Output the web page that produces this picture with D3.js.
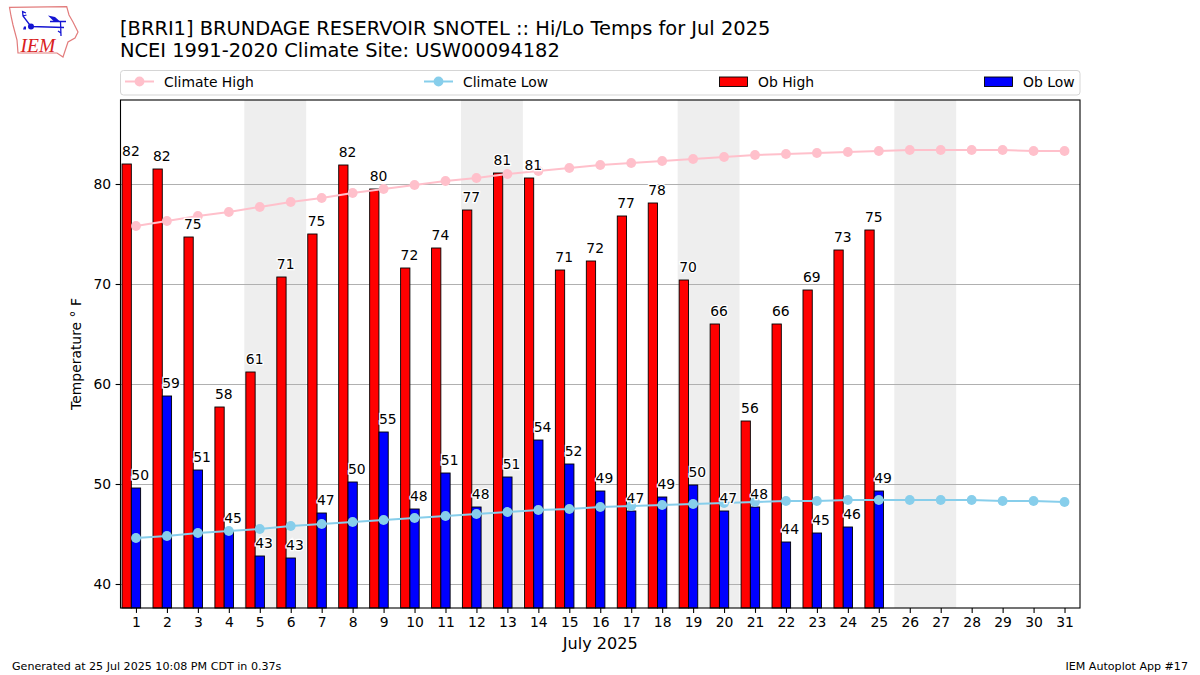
<!DOCTYPE html>
<html>
<head>
<meta charset="utf-8">
<script src="https://d3js.org/d3.v7.min.js"></script>
<style>
html,body{margin:0;padding:0;background:#fff;}
svg{display:block;}
text{font-family:"DejaVu Sans",sans-serif;fill:#000;}
</style>
</head>
<body>
<script>
const WIDTH = 1200, HEIGHT = 675;
const LEFT = 120.5, RIGHT = 1080, TOP = 100, BOTTOM = 608;

const days = d3.range(1, 32);
const climateHigh = [75.8,76.3,76.8,77.2,77.7,78.2,78.6,79.1,79.5,79.9,80.3,80.6,81.0,81.3,81.6,81.9,82.1,82.3,82.5,82.7,82.9,83.0,83.1,83.2,83.3,83.4,83.4,83.4,83.4,83.3,83.3];
const climateLow = [44.6,44.8,45.1,45.3,45.5,45.8,46.0,46.2,46.4,46.6,46.8,47.0,47.2,47.4,47.5,47.7,47.8,47.9,48.0,48.1,48.2,48.3,48.3,48.4,48.4,48.4,48.4,48.4,48.3,48.3,48.2];
const obHigh = [82.0,81.5,74.7,57.7,61.2,70.7,75.0,81.9,79.5,71.6,73.6,77.4,81.1,80.6,71.4,72.3,76.8,78.1,70.4,66.0,56.3,66.0,69.4,73.4,75.4];
const obLow = [49.6,58.8,51.4,45.3,42.8,42.6,47.1,50.2,55.2,47.5,51.1,47.7,50.7,54.4,52.0,49.3,47.3,48.7,49.9,47.3,47.7,44.2,45.1,45.7,49.3];
const weekendStarts = [5, 12, 19, 26];
const yTicks = [40, 50, 60, 70, 80];

const legendItems = [
	{label:'Climate High', kind:'line', color:'#ffc0cb', x:125},
	{label:'Climate Low', kind:'line', color:'#87ceeb', x:424},
	{label:'Ob High', kind:'bar', color:'#ff0000', x:719},
	{label:'Ob Low', kind:'bar', color:'#0000ff', x:984}
];

const xScale = d3.scaleLinear().domain([0.5, 31.5]).range([LEFT, RIGHT]);
const yScale = d3.scaleLinear().domain([37.6, 88.4]).range([BOTTOM, TOP]);
const barWidth = xScale(1.3) - xScale(1);

const svg = d3.select('body').append('svg')
	.attr('width', WIDTH)
	.attr('height', HEIGHT);

var drawLogo = function(){
	const logo = svg.append('g');
	logo.append('path')
		.attr('d', 'M9.5,7.3 L66.7,6.7 L69,15 L73,22 L78,32 L75,38 L68,42 L65,51 L63,57 L57,53 L18,53 L17,40 L13,25 L11,16 Z')
		.attr('fill', 'none').attr('stroke', '#e27c7c').attr('stroke-width', 1.2);
	const blue = '#1414d2';
	logo.append('path')
		.attr('d', 'M31,26.5 L64,27.5 M31,26.5 L23,16 L22.6,11.6 L26,13 M23,16 L26.5,15 M60.5,22 L61,36 M58,31 L61,33 M50,21.5 L66,21.5')
		.attr('fill', 'none').attr('stroke', blue).attr('stroke-width', 1.3);
	logo.append('path')
		.attr('d', 'M48,15.5 L55,17 L60,21.5 L54,21.5 Z')
		.attr('fill', blue);
	logo.append('circle').attr('cx', 31).attr('cy', 26.5).attr('r', 3).attr('fill', blue);
	logo.append('path')
		.attr('d', 'M23,29.5 h3 v-3 h-2 Z')
		.attr('fill', blue);
	logo.append('text')
		.attr('x', 20.5).attr('y', 52)
		.style('font-family', '"Liberation Serif",serif')
		.style('font-style', 'italic')
		.style('font-size', '19.5px')
		.style('fill', '#d92020')
		.text('IEM');
};

var drawTitles = function(){
	svg.append('text').attr('x', 120).attr('y', 35).style('font-size', '19.43px')
		.text('[BRRI1] BRUNDAGE RESERVOIR SNOTEL :: Hi/Lo Temps for Jul 2025');
	svg.append('text').attr('x', 120).attr('y', 57).style('font-size', '19.43px')
		.text('NCEI 1991-2020 Climate Site: USW00094182');
	svg.append('text').attr('x', 12).attr('y', 670).style('font-size', '11.1px')
		.text('Generated at 25 Jul 2025 10:08 PM CDT in 0.37s');
	svg.append('text').attr('x', 1188).attr('y', 670).attr('text-anchor', 'end').style('font-size', '11.1px')
		.text('IEM Autoplot App #17');
	svg.append('text').attr('x', (LEFT + RIGHT) / 2).attr('y', 649).attr('text-anchor', 'middle').style('font-size', '16.1px')
		.text('July 2025');
	svg.append('text')
		.attr('transform', 'translate(81,354) rotate(-90)')
		.attr('text-anchor', 'middle')
		.style('font-size', '13.9px')
		.text('Temperature \u00b0 F');
};

var drawLegend = function(){
	svg.append('rect')
		.attr('x', 120.5).attr('y', 70.5).attr('width', 959.5).attr('height', 24.5).attr('rx', 3)
		.attr('fill', '#fff').attr('stroke', '#d5d5d5');
	const item = svg.append('g').selectAll('g').data(legendItems).enter().append('g')
		.attr('transform', function(d){return 'translate(' + d.x + ',81.5)'});
	item.filter(function(d){return d.kind == 'line'}).append('line')
		.attr('x1', 0).attr('x2', 29)
		.attr('stroke', function(d){return d.color}).attr('stroke-width', 2);
	item.filter(function(d){return d.kind == 'line'}).append('circle')
		.attr('cx', 14.5).attr('r', 4.9)
		.attr('fill', function(d){return d.color});
	item.filter(function(d){return d.kind == 'bar'}).append('rect')
		.attr('x', 0.5).attr('y', -4.5).attr('width', 28).attr('height', 9.5)
		.attr('fill', function(d){return d.color}).attr('stroke', '#000').attr('stroke-width', 0.9);
	item.append('text').attr('x', 39).attr('y', 5).style('font-size', '13.9px')
		.text(function(d){return d.label});
};

var drawBackground = function(){
	svg.append('g').selectAll('rect').data(weekendStarts).enter().append('rect')
		.attr('x', function(d){return xScale(d - 0.5)})
		.attr('width', function(d){return xScale(d + 1.5) - xScale(d - 0.5)})
		.attr('y', TOP).attr('height', BOTTOM - TOP)
		.attr('fill', '#eeeeee');
	svg.append('g').selectAll('line').data(yTicks).enter().append('line')
		.attr('x1', LEFT).attr('x2', RIGHT)
		.attr('y1', function(d){return yScale(d)})
		.attr('y2', function(d){return yScale(d)})
		.attr('stroke', '#b0b0b0').attr('stroke-width', 1)
		.attr('shape-rendering', 'crispEdges');
};

var drawBars = function(values, offset, color){
	svg.append('g').selectAll('rect').data(values).enter().append('rect')
		.attr('x', function(d, i){return xScale(days[i] + offset)})
		.attr('width', barWidth)
		.attr('y', function(d){return yScale(d)})
		.attr('height', function(d){return BOTTOM - yScale(d)})
		.attr('fill', color).attr('stroke', '#000').attr('stroke-width', 0.9);
};

var drawClimate = function(values, color){
	const line = d3.line()
		.x(function(d, i){return xScale(days[i])})
		.y(function(d){return yScale(d)});
	svg.append('path').attr('d', line(values))
		.attr('fill', 'none').attr('stroke', color).attr('stroke-width', 2);
	svg.append('g').selectAll('circle').data(values).enter().append('circle')
		.attr('cx', function(d, i){return xScale(days[i])})
		.attr('cy', function(d){return yScale(d)})
		.attr('r', 4.9).attr('fill', color);
};

var drawLabels = function(values, offset){
	svg.append('g').selectAll('text').data(values).enter().append('text')
		.attr('x', function(d, i){return xScale(days[i] + offset)})
		.attr('y', function(d){return yScale(d) - 8})
		.attr('stroke', '#fff').attr('stroke-width', 2.6).attr('paint-order', 'stroke')
		.style('font-size', '13.9px')
		.text(function(d){return Math.round(d)});
};

var drawAxes = function(){
	const xAxis = d3.axisBottom(xScale).tickValues(days).tickSize(4.9).tickPadding(4.5).tickFormat(d3.format('d'));
	const yAxis = d3.axisLeft(yScale).tickValues(yTicks).tickSize(4.9).tickPadding(4.5);
	const gx = svg.append('g').attr('transform', 'translate(0,' + BOTTOM + ')').call(xAxis);
	const gy = svg.append('g').attr('transform', 'translate(' + LEFT + ',0)').call(yAxis);
	[gx, gy].forEach(function(g){
		g.selectAll('text').style('font-size', '13.9px').style('font-family', '"DejaVu Sans",sans-serif');
		g.selectAll('.domain').remove();
		g.selectAll('line').attr('stroke', '#000').attr('stroke-width', 1.1);
	});
	svg.append('rect')
		.attr('x', LEFT).attr('y', TOP).attr('width', RIGHT - LEFT).attr('height', BOTTOM - TOP)
		.attr('fill', 'none').attr('stroke', '#000').attr('stroke-width', 1.1);
};

drawLogo();
drawTitles();
drawLegend();
drawBackground();
drawBars(obHigh, -0.45, '#ff0000');
drawBars(obLow, -0.15, '#0000ff');
drawClimate(climateHigh, '#ffc0cb');
drawClimate(climateLow, '#87ceeb');
drawLabels(obHigh, -0.45);
drawLabels(obLow, -0.15);
drawAxes();
</script>
</body>
</html>
